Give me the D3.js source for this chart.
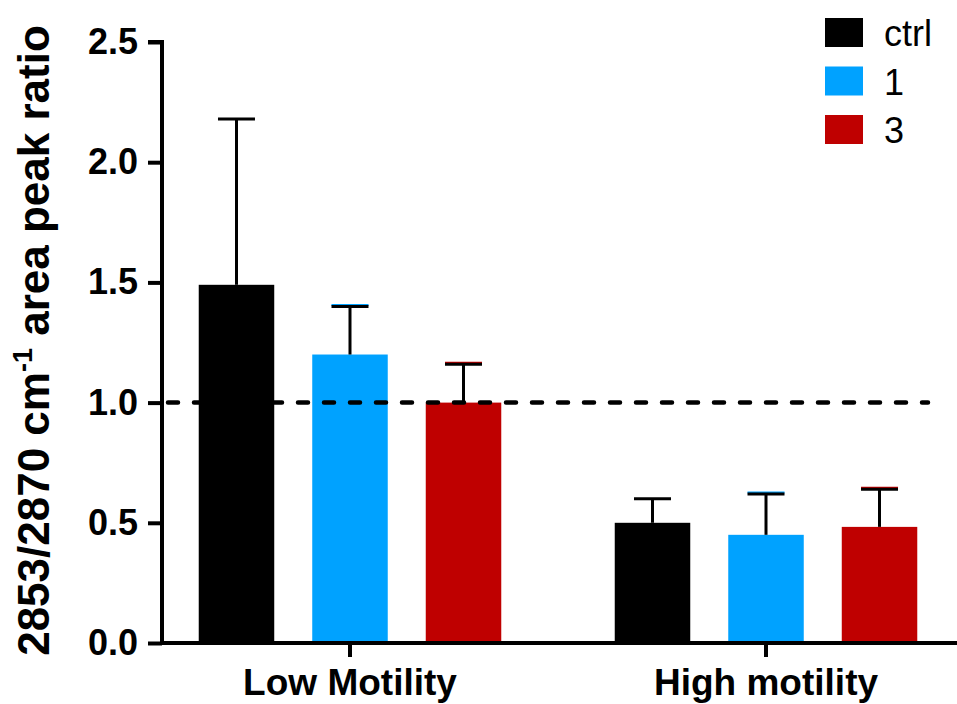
<!DOCTYPE html>
<html><head><meta charset="utf-8">
<script src="https://cdn.jsdelivr.net/npm/d3@7"></script>
<style>body{margin:0;background:#fff}svg{display:block}text{font-family:"Liberation Sans",Arial,sans-serif}</style>
</head><body>
<script>
const groups = ["Low Motility", "High motility"];
const seriesNames = ["ctrl", "1", "3"];
const seriesColors = ["#000000", "#00A2FF", "#BF0000"];
const meanValues = [[1.49, 1.20, 1.00], [0.50, 0.45, 0.483]];
const errorTops = [[2.18, 1.40, 1.16], [0.60, 0.62, 0.64]];
const yTicks = [0, 0.5, 1.0, 1.5, 2.0, 2.5];
const refLine = 1.0;

const W = 957, H = 704;
const m = {left: 162, top: 42, right: 3, bottom: 61};
const svg = d3.select("body").append("svg").attr("width", W).attr("height", H);

const y = d3.scaleLinear().domain([0, 2.5]).range([H - m.bottom, m.top]);
const x0 = d3.scaleBand().domain(groups).range([m.left, W - m.right]).paddingInner(0.2728).paddingOuter(0.0883);
const x1 = d3.scaleBand().domain(seriesNames).range([0, x0.bandwidth()]).paddingInner(0.3348).paddingOuter(0);

const bars = [];
groups.forEach((g, gi) => seriesNames.forEach((s, si) => bars.push({g, s, si, v: meanValues[gi][si], e: errorTops[gi][si]})));

// bars
svg.append("g").selectAll("rect").data(bars).join("rect")
  .attr("x", d => x0(d.g) + x1(d.s))
  .attr("width", x1.bandwidth())
  .attr("y", d => y(d.v))
  .attr("height", d => y(0) - y(d.v))
  .attr("fill", d => seriesColors[d.si]);

// error bars
const eg = svg.append("g");
const capW = 37;
bars.forEach(d => {
  const cx = x0(d.g) + x1(d.s) + x1.bandwidth() / 2;
  if (d.si > 0) {
    eg.append("line").attr("x1", cx - capW/2).attr("x2", cx + capW/2)
      .attr("y1", y(d.e) - 1.5).attr("y2", y(d.e) - 1.5)
      .attr("stroke", seriesColors[d.si]).attr("stroke-width", 2);
  }
  eg.append("line").attr("x1", cx).attr("x2", cx).attr("y1", y(d.v)).attr("y2", y(d.e))
    .attr("stroke", "#000").attr("stroke-width", 3);
  eg.append("line").attr("x1", cx - capW/2).attr("x2", cx + capW/2).attr("y1", y(d.e)).attr("y2", y(d.e))
    .attr("stroke", "#000").attr("stroke-width", 3);
});

// reference dashed line
svg.append("line").attr("x1", m.left + 6).attr("x2", 928)
  .attr("y1", y(refLine)).attr("y2", y(refLine))
  .attr("stroke", "#000").attr("stroke-width", 4.5)
  .attr("stroke-dasharray", "10 16").attr("stroke-linecap", "round");

// y axis
const ya = svg.append("g").attr("transform", `translate(${m.left},0)`)
  .call(d3.axisLeft(y).tickValues(yTicks).tickFormat(d3.format(".1f")).tickSize(14).tickPadding(10));
ya.select(".domain").attr("stroke-width", 4).attr("d", `M-14,${y(2.5)}H0V${y(0)}`);
ya.selectAll(".tick line").attr("stroke-width", 4);
ya.selectAll(".tick text").attr("font-size", 36).attr("font-weight", "bold").attr("fill", "#000")
  .style("font-family", "'Liberation Sans',Arial,sans-serif");

// x axis
const xa = svg.append("g").attr("transform", `translate(0,${y(0)})`)
  .call(d3.axisBottom(x0).tickSize(14).tickPadding(12));
xa.select(".domain").attr("stroke-width", 4).attr("d", `M${m.left - 2},0H${W}`);
xa.selectAll(".tick line").attr("stroke-width", 4);
xa.selectAll(".tick text").attr("font-size", 37).attr("font-weight", "bold").attr("fill", "#000")
  .style("font-family", "'Liberation Sans',Arial,sans-serif");

// y title
const yt = svg.append("text").attr("transform", `translate(49,${(y(0)+y(2.5))/2 - 2}) rotate(-90)`)
  .attr("text-anchor", "middle").attr("font-size", 44).attr("font-weight", "bold");
yt.append("tspan").text("2853/2870 cm");
yt.append("tspan").text("-1").attr("font-size", 27).attr("dy", -17);
yt.append("tspan").text(" area peak ratio").attr("dy", 17);

// legend
const lg = svg.append("g").attr("transform", "translate(825,18)");
seriesNames.forEach((s, i) => {
  const row = lg.append("g").attr("transform", `translate(0,${i * 48.5})`);
  row.append("rect").attr("width", 38).attr("height", 29).attr("fill", seriesColors[i]);
  row.append("text").attr("x", 59).attr("y", 28).attr("font-size", 36).text(s);
});
</script>
</body></html>
